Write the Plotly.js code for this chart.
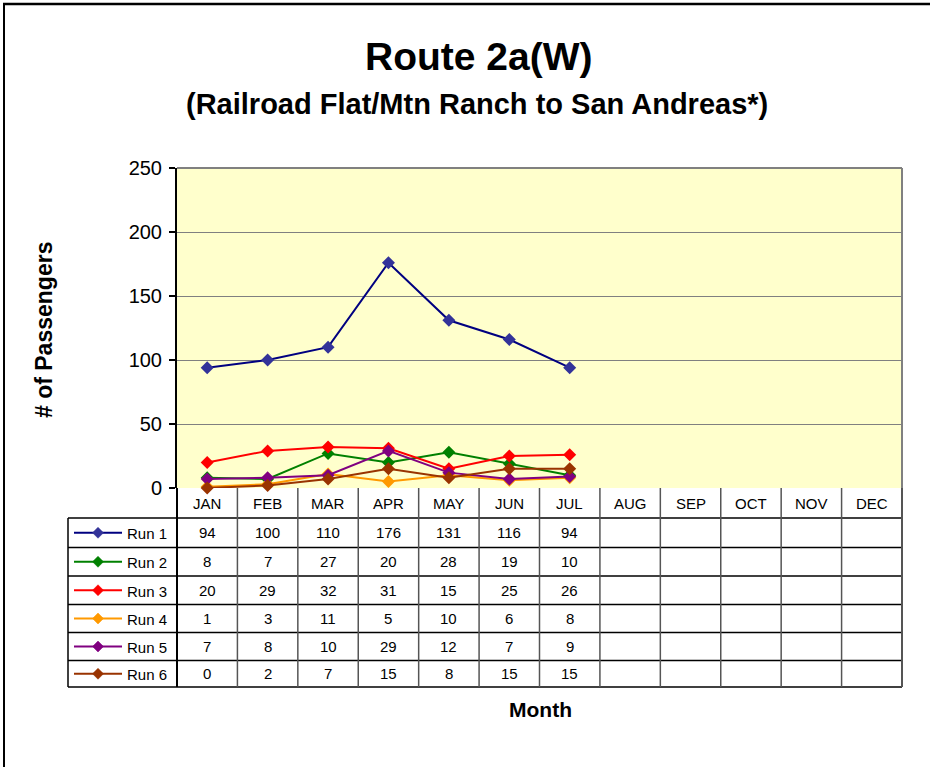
<!DOCTYPE html>
<html>
<head>
<meta charset="utf-8">
<script src="https://cdn.plot.ly/plotly-3.0.1.min.js"></script>
<style>html,body{margin:0;padding:0;background:#fff;}#chart{width:930px;height:767px;}</style>
</head>
<body>
<div id="chart"></div>
<script>
const months = ["JAN","FEB","MAR","APR","MAY","JUN","JUL","AUG","SEP","OCT","NOV","DEC"];
const seriesNames = ["Run 1","Run 2","Run 3","Run 4","Run 5","Run 6"];
const run1 = [94,100,110,176,131,116,94];
const run2 = [8,7,27,20,28,19,10];
const run3 = [20,29,32,31,15,25,26];
const run4 = [1,3,11,5,10,6,8];
const run5 = [7,8,10,29,12,7,9];
const run6 = [0,2,7,15,8,15,15];
const lineColors = ["#000080","#008000","#FF0000","#FF9900","#800080","#993300"];
const markerColors = ["#333399","#008000","#FF0000","#FF9900","#800080","#993300"];
const yTicks = [0,50,100,150,200,250];

const allRuns = [run1,run2,run3,run4,run5,run6];

const FONT = "Arial, Liberation Sans, sans-serif";
const plotBottomPx = 488, plotTopPx = 168, plotLeftPx = 177, plotRightPx = 902;
const pyp = px => (plotBottomPx - px) / (plotBottomPx - plotTopPx);
const pxp = px => (px - plotLeftPx) / (plotRightPx - plotLeftPx);

const traces = allRuns.map((vals, i) => ({
  type: "scatter",
  mode: "lines+markers",
  name: seriesNames[i],
  x: months.slice(0, vals.length),
  y: vals,
  line: {color: lineColors[i], width: 2},
  marker: {symbol: "diamond", size: 10, color: markerColors[i]},
  cliponaxis: false,
  showlegend: false
}));

const shapes = [];
const annotations = [];
const headerBottom = 518;
const rowLines = [518, 547.5, 576, 604.5, 632.5, 660.5, 687];
const tableLeftPx = 68;

shapes.push({type:"line", xref:"paper", yref:"paper", x0:0, x1:1, y0:pyp(headerBottom), y1:pyp(headerBottom), line:{color:"#000", width:1.5}});
rowLines.slice(1).forEach(r => {
  shapes.push({type:"line", xref:"paper", yref:"paper", x0:pxp(tableLeftPx), x1:1, y0:pyp(r), y1:pyp(r), line:{color:"#000", width:1.5}});
});
shapes.push({type:"line", xref:"paper", yref:"paper", x0:pxp(tableLeftPx), x1:0, y0:pyp(518), y1:pyp(518), line:{color:"#000", width:1.5}});
shapes.push({type:"line", xref:"paper", yref:"paper", x0:pxp(tableLeftPx), x1:pxp(tableLeftPx), y0:pyp(518), y1:pyp(687), line:{color:"#000", width:1.5}});
for (let k = 0; k <= months.length; k++) {
  const col = (k === 0) ? "#000" : "#555";
  shapes.push({type:"line", xref:"paper", yref:"paper", x0:k/months.length, x1:k/months.length, y0:0, y1:pyp(687), line:{color:col, width:(k===0||k===months.length)?2:1.5}});
}
shapes.push({type:"line", xref:"paper", yref:"paper", x0:0, x1:1, y0:1, y1:1, line:{color:"#808080", width:2}});
shapes.push({type:"line", xref:"paper", yref:"paper", x0:1, x1:1, y0:0, y1:1, line:{color:"#808080", width:2}});
shapes.push({type:"line", xref:"paper", yref:"paper", x0:pxp(3), x1:pxp(935), y0:pyp(4), y1:pyp(4), line:{color:"#000", width:2.5}});
shapes.push({type:"line", xref:"paper", yref:"paper", x0:pxp(4), x1:pxp(4), y0:pyp(3), y1:pyp(780), line:{color:"#000", width:2}});

months.forEach((m) => {
  annotations.push({xref:"x", yref:"paper", x:m, y:pyp(503), text:m, showarrow:false,
    font:{family:FONT, size:15, color:"#000"}, xanchor:"center", yanchor:"middle"});
});

allRuns.forEach((vals, i) => {
  const cy = (rowLines[i] + rowLines[i+1]) / 2;
  vals.forEach((v, j) => {
    annotations.push({xref:"x", yref:"paper", x:months[j], y:pyp(cy), text:String(v), showarrow:false,
      font:{family:FONT, size:15, color:"#000"}, xanchor:"center", yanchor:"middle"});
  });
  shapes.push({type:"line", xref:"paper", yref:"paper", x0:pxp(74), x1:pxp(122), y0:pyp(cy), y1:pyp(cy), line:{color:lineColors[i], width:2}});
  shapes.push({type:"path", xref:"paper", yref:"paper",
    path: `M ${pxp(98)} ${pyp(cy-5.5)} L ${pxp(103.5)} ${pyp(cy)} L ${pxp(98)} ${pyp(cy+5.5)} L ${pxp(92.5)} ${pyp(cy)} Z`,
    fillcolor: markerColors[i], line:{color:markerColors[i], width:0.5}});
  annotations.push({xref:"paper", yref:"paper", x:pxp(125), y:pyp(cy+1), text:seriesNames[i], showarrow:false,
    font:{family:FONT, size:15, color:"#000"}, xanchor:"left", yanchor:"middle"});
});

annotations.push({xref:"paper", yref:"paper", x:pxp(479), y:pyp(57), text:"<b>Route 2a(W)</b>", showarrow:false,
  font:{family:FONT, size:39, color:"#000"}, xanchor:"center", yanchor:"middle"});
annotations.push({xref:"paper", yref:"paper", x:pxp(477), y:pyp(104), text:"<b>(Railroad Flat/Mtn Ranch to San Andreas*)</b>", showarrow:false,
  font:{family:FONT, size:29, color:"#000"}, xanchor:"center", yanchor:"middle"});
annotations.push({xref:"paper", yref:"paper", x:pxp(540), y:pyp(709), text:"<b>Month</b>", showarrow:false,
  font:{family:FONT, size:21, color:"#000"}, xanchor:"center", yanchor:"middle"});
annotations.push({xref:"paper", yref:"paper", x:pxp(44), y:pyp(330), text:"<b># of Passengers</b>", showarrow:false, textangle:-90,
  font:{family:FONT, size:23, color:"#000"}, xanchor:"center", yanchor:"middle"});

const layout = {
  width: 930, height: 767,
  margin: {l: plotLeftPx, r: 930 - plotRightPx, t: plotTopPx, b: 767 - plotBottomPx, pad: 0},
  paper_bgcolor: "#FFFFFF",
  plot_bgcolor: "#FFFFCC",
  showlegend: false,
  xaxis: {
    type: "category",
    categoryorder: "array",
    categoryarray: months,
    range: [-0.5, months.length - 0.5],
    showticklabels: false,
    showgrid: false,
    zeroline: false,
    showline: false,
    ticks: "",
    fixedrange: true
  },
  yaxis: {
    range: [0, 250],
    tickvals: yTicks,
    ticktext: yTicks.map(String),
    ticks: "outside",
    ticklen: 6,
    tickwidth: 1.5,
    tickcolor: "#000",
    showline: true,
    linecolor: "#000",
    linewidth: 2,
    showgrid: true,
    gridcolor: "#808080",
    gridwidth: 1,
    zeroline: false,
    tickfont: {family: FONT, size: 20, color: "#000"},
    ticklabelstandoff: 3,
    fixedrange: true
  },
  shapes: shapes,
  annotations: annotations
};

Plotly.newPlot("chart", traces, layout, {displayModeBar: false, staticPlot: true});
</script>
</body>
</html>
